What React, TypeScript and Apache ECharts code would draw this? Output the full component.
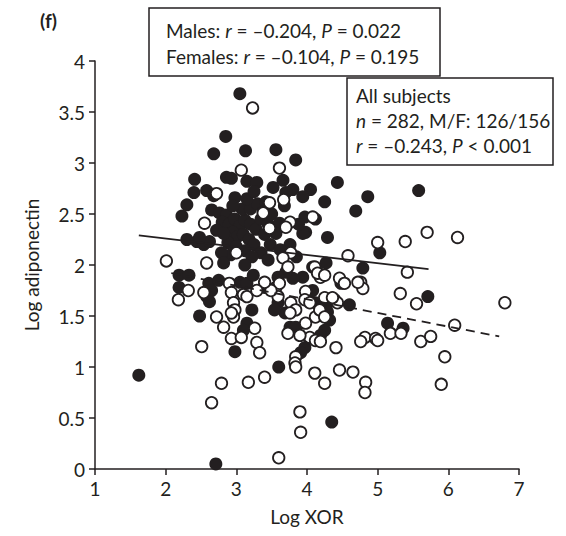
import React, { useEffect, useRef } from 'react';
import * as echarts from 'echarts';

const males: number[][] = [
  [3.05, 3.68], [2.85, 3.26], [2.68, 3.09], [3.13, 3.12], [3.56, 3.13],
  [2.41, 2.84], [2.86, 2.86], [2.93, 2.85], [3.15, 2.82], [3.29, 2.81],
  [2.40, 2.71], [2.58, 2.73], [2.68, 2.68], [2.98, 2.66], [2.30, 2.59], [2.23, 2.48],
  [2.65, 2.54], [2.76, 2.51], [2.86, 2.49],
  [2.80, 2.42], [2.90, 2.40], [2.98, 2.45], [3.05, 2.38], [3.12, 2.44], [3.20, 2.40],
  [3.28, 2.35], [2.95, 2.32], [3.02, 2.28], [3.10, 2.30], [3.18, 2.25], [3.25, 2.20],
  [2.88, 2.22], [3.00, 2.18], [3.35, 2.45], [3.40, 2.30], [3.45, 2.40], [3.08, 2.55],
  [3.20, 2.55], [3.30, 2.60], [3.38, 2.52], [2.95, 2.58], [3.15, 2.65], [3.42, 2.62],
  [3.50, 2.50], [3.48, 2.20], [3.35, 2.12], [3.12, 2.14], [3.22, 2.08], [2.92, 2.10],
  [2.30, 2.25], [2.44, 2.23], [2.54, 2.20], [2.62, 2.23], [2.48, 2.27], [2.72, 2.34], [2.82, 2.31],
  [2.79, 2.12], [2.82, 2.02], [3.12, 2.00],
  [2.19, 1.90], [2.33, 1.90], [2.19, 1.78],
  [2.61, 1.82], [2.65, 1.75], [2.58, 1.69], [2.62, 1.64], [2.75, 1.85],
  [3.05, 1.83], [3.15, 1.82], [3.24, 1.90],
  [3.22, 1.56], [3.15, 1.43], [3.10, 1.36], [2.48, 1.50], [2.98, 1.15], [3.60, 1.00],
  [3.84, 3.03], [4.43, 2.81], [4.86, 2.67], [4.69, 2.53], [4.25, 2.62], [4.05, 2.74],
  [3.94, 2.67], [3.80, 2.74], [3.70, 2.71], [3.66, 2.83], [3.52, 2.76],
  [3.97, 2.47], [3.98, 2.32], [3.94, 2.31], [3.61, 2.41], [3.56, 2.31], [4.29, 2.27],
  [5.03, 2.12], [3.76, 2.20],
  [4.27, 2.02], [4.08, 1.98], [4.15, 1.93], [4.79, 1.97], [4.48, 1.82],
  [3.94, 1.88], [3.80, 1.87], [3.70, 1.93], [3.59, 1.88],
  [4.08, 1.75], [4.12, 1.63], [4.27, 1.59], [4.60, 1.61],
  [4.29, 1.54], [4.32, 1.46], [4.25, 1.36], [4.19, 1.31],
  [3.69, 1.53], [3.59, 1.63], [3.54, 1.56],
  [3.76, 1.39], [3.80, 1.38], [3.84, 1.39],
  [5.14, 1.43], [5.36, 1.38],
  [3.97, 1.19], [3.91, 1.14],
  [4.35, 0.46], [2.71, 0.05], [1.62, 0.92], [5.71, 1.69], [5.58, 2.73],
  [3.45, 2.05], [3.62, 2.15], [3.85, 2.08], [3.88, 2.40], [3.68, 2.58], [4.12, 2.45],
  [3.25, 2.72], [3.40, 1.78]
];

const females: number[][] = [
  [3.23, 3.54], [3.07, 2.93], [2.72, 2.70], [2.55, 2.41], [2.01, 2.04], [2.58, 2.02],
  [3.00, 2.12], [2.32, 1.75], [2.18, 1.66], [2.54, 1.73], [2.90, 1.82], [2.93, 1.73],
  [2.96, 1.63], [3.10, 1.71], [2.98, 1.56], [2.72, 1.49], [2.82, 1.39], [2.96, 1.49],
  [2.93, 1.28], [3.07, 1.29], [3.26, 1.38], [3.29, 1.24], [3.33, 1.14], [2.51, 1.20],
  [2.79, 0.84], [3.17, 0.85], [3.40, 0.90], [2.65, 0.65], [3.61, 2.95],
  [4.08, 2.47], [3.76, 2.42], [3.70, 2.37], [5.00, 2.22], [4.58, 2.09], [3.77, 2.12],
  [3.66, 2.07], [4.11, 1.98], [4.19, 1.88], [4.46, 1.87], [4.53, 1.82], [4.76, 1.83],
  [4.79, 1.77], [5.42, 1.93], [3.98, 1.74], [3.97, 1.66], [4.04, 1.63], [3.77, 1.63],
  [3.84, 1.56], [3.76, 1.53], [3.56, 1.78], [3.59, 1.69], [4.25, 1.68], [4.39, 1.66],
  [4.43, 1.63], [4.12, 1.49], [3.98, 1.43], [4.04, 1.29], [4.12, 1.26], [4.19, 1.25],
  [3.73, 1.33], [3.90, 1.31], [4.41, 1.19], [4.82, 1.29], [4.76, 1.25], [4.97, 1.28],
  [5.18, 1.33], [5.33, 1.33], [3.84, 1.10], [3.83, 1.04], [3.84, 1.00], [4.11, 0.94],
  [4.25, 0.84], [4.46, 0.97], [4.65, 0.95], [4.83, 0.85], [4.82, 0.75], [3.90, 0.56],
  [3.91, 0.36],
  [5.39, 2.23], [5.70, 2.32], [6.13, 2.27], [5.32, 1.72], [5.55, 1.62], [6.80, 1.63],
  [6.09, 1.41], [5.00, 1.26], [5.61, 1.25], [5.75, 1.30],
  [5.95, 1.10], [5.90, 0.83], [3.60, 0.11],
  [3.47, 2.61], [3.47, 2.36], [3.73, 1.98], [3.61, 1.82], [3.49, 1.75], [3.40, 1.83],
  [4.15, 1.92], [4.25, 1.90], [4.72, 1.83], [4.36, 1.68], [4.18, 1.56], [4.25, 1.49],
  [2.93, 1.53], [3.15, 1.69], [3.29, 1.75], [3.38, 2.51], [3.67, 2.64]
];

const maleFit: number[][] = [[1.62, 2.29], [5.72, 1.96]];
const femaleFit: number[][] = [[2.08, 1.92], [6.72, 1.30]];

const INK = '#231f20';
const FONT = 'Lato';
const FS = 19;

export default function App() {
  const ref = useRef<HTMLDivElement>(null);
  useEffect(() => {
    const chart = echarts.init(ref.current!, null, { renderer: 'svg' });
    const rich = {
      n: { fontSize: FS, fontFamily: FONT, fill: INK },
      i: { fontSize: FS, fontFamily: FONT, fill: INK, fontStyle: 'italic' }
    };
    chart.setOption({
      animation: false,
      backgroundColor: '#fff',
      grid: { left: 95, right: 47, top: 61, bottom: 67 },
      xAxis: {
        type: 'value', min: 1, max: 7, interval: 1,
        name: 'Log XOR', nameLocation: 'middle', nameGap: 38,
        nameTextStyle: { fontSize: FS, fontFamily: FONT, color: INK },
        axisLine: { show: true, onZero: false, lineStyle: { color: INK, width: 1.5 } },
        axisTick: { show: true, length: 6, lineStyle: { color: INK, width: 1.5 } },
        axisLabel: { fontSize: FS, fontFamily: FONT, color: INK, margin: 10 },
        splitLine: { show: false }
      },
      yAxis: {
        type: 'value', min: 0, max: 4, interval: 0.5,
        name: 'Log adiponectin', nameLocation: 'middle', nameGap: 54,
        nameTextStyle: { fontSize: FS, fontFamily: FONT, color: INK },
        axisLine: { show: true, onZero: false, lineStyle: { color: INK, width: 1.5 } },
        axisTick: { show: true, length: 6, lineStyle: { color: INK, width: 1.5 } },
        axisLabel: { fontSize: FS, fontFamily: FONT, color: INK, margin: 10 },
        splitLine: { show: false }
      },
      series: [
        {
          type: 'scatter', name: 'Males', data: males, symbol: 'circle', symbolSize: 13,
          itemStyle: { color: INK, borderWidth: 0, opacity: 1 }, z: 2
        },
        {
          type: 'scatter', name: 'Females', data: females, symbol: 'circle', symbolSize: 11.5,
          itemStyle: { color: '#fff', borderColor: INK, borderWidth: 1.8, opacity: 1 }, z: 3
        },
        {
          type: 'line', data: maleFit, symbol: 'none',
          lineStyle: { color: INK, width: 1.8, type: 'solid' }, z: 4
        },
        {
          type: 'line', data: femaleFit, symbol: 'none',
          lineStyle: { color: INK, width: 1.8, type: [9, 6] }, z: 4
        }
      ],
      graphic: [
        {
          type: 'text', left: 40, top: 11, z: 10,
          style: { text: '(f)', fontSize: FS, fontWeight: 'bold', fontFamily: FONT, fill: INK }
        },
        {
          type: 'rect', z: 10,
          shape: { x: 149, y: 8, width: 291, height: 68 },
          style: { fill: '#fff', stroke: INK, lineWidth: 1.5 }
        },
        {
          type: 'text', z: 11, x: 166, y: 21,
          style: { text: '{n|Males: }{i|r}{n| = –0.204, }{i|P}{n| = 0.022}', rich }
        },
        {
          type: 'text', z: 11, x: 166, y: 47,
          style: { text: '{n|Females: }{i|r}{n| = –0.104, }{i|P}{n| = 0.195}', rich }
        },
        {
          type: 'rect', z: 10,
          shape: { x: 347, y: 78, width: 206, height: 87 },
          style: { fill: '#fff', stroke: INK, lineWidth: 1.5 }
        },
        {
          type: 'text', z: 11, x: 356, y: 86,
          style: { text: '{n|All subjects}', rich }
        },
        {
          type: 'text', z: 11, x: 356, y: 111,
          style: { text: '{i|n}{n| = 282, M/F: 126/156}', rich }
        },
        {
          type: 'text', z: 11, x: 356, y: 136,
          style: { text: '{i|r}{n| = –0.243, }{i|P}{n| < 0.001}', rich }
        }
      ]
    });
    return () => chart.dispose();
  }, []);
  return (
    <div
      ref={ref}
      style={{ position: 'absolute', left: 0, top: 0, width: 566, height: 536 }}
    />
  );
}
